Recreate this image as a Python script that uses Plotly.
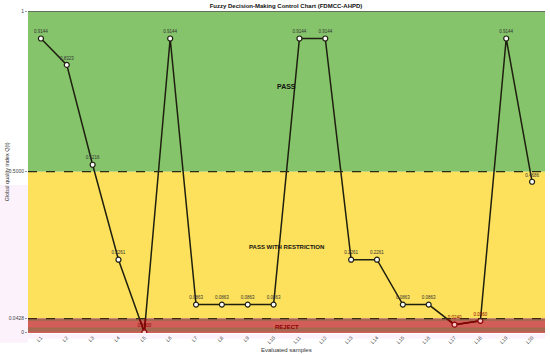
import plotly.graph_objects as go

samples = [f"L{i}" for i in range(1, 21)]
q_values = [0.9144, 0.8323, 0.5216, 0.2261, 0.0000, 0.9144, 0.0863, 0.0863, 0.0863, 0.0863,
            0.9144, 0.9144, 0.2261, 0.2261, 0.0863, 0.0863, 0.0240, 0.0360, 0.9144, 0.4686]
pass_threshold = 0.5000
reject_threshold = 0.0428
y_tick_vals = [0, reject_threshold, pass_threshold, 1]
y_tick_text = ["0", "0.0428", "0.5000", "1"]

FONT = "Liberation Sans, Arial, sans-serif"
GREEN = "#85C46A"
YELLOW = "#FDE05B"
RED = "#D35E57"
BROWN = "#9C6A50"
DARKRED = "#8B0000"

xs = list(range(len(samples)))
fig = go.Figure()

# main line
fig.add_trace(go.Scatter(x=xs, y=q_values, mode="lines", line=dict(color="#1f1f10", width=1.5),
                         hoverinfo="skip", showlegend=False))

# parts of segments inside reject zone, coloured dark red (derived from data)
for i in range(len(q_values) - 1):
    y0, y1 = q_values[i], q_values[i + 1]
    if y0 >= reject_threshold and y1 >= reject_threshold:
        continue
    def cross(ya, yb, xa, xb):
        t = (reject_threshold - ya) / (yb - ya)
        return xa + t * (xb - xa)
    if y0 < reject_threshold and y1 < reject_threshold:
        sx, sy = [xs[i], xs[i + 1]], [y0, y1]
    elif y0 < reject_threshold:
        sx, sy = [xs[i], cross(y0, y1, xs[i], xs[i + 1])], [y0, reject_threshold]
    else:
        sx, sy = [cross(y0, y1, xs[i], xs[i + 1]), xs[i + 1]], [reject_threshold, y1]
    fig.add_trace(go.Scatter(x=sx, y=sy, mode="lines", line=dict(color=DARKRED, width=1.5),
                             hoverinfo="skip", showlegend=False))

in_reject = [v < reject_threshold for v in q_values]
fig.add_trace(go.Scatter(
    x=xs, y=q_values, mode="markers+text",
    marker=dict(size=5, color=["#F7C6C6" if r else "white" for r in in_reject],
                line=dict(color=[DARKRED if r else "#1f1f10" for r in in_reject], width=1.2)),
    text=[f"{v:.4f}" for v in q_values], textposition="top center",
    textfont=dict(size=4.5, family=FONT, color=[DARKRED if r else "#333333" for r in in_reject]),
    hoverinfo="skip", showlegend=False))

shapes = [
    dict(type="rect", xref="paper", yref="y", x0=0, x1=1, y0=pass_threshold, y1=1,
         fillcolor=GREEN, line=dict(width=0), layer="below"),
    dict(type="rect", xref="paper", yref="y", x0=0, x1=1, y0=reject_threshold, y1=pass_threshold,
         fillcolor=YELLOW, line=dict(width=0), layer="below"),
    dict(type="rect", xref="paper", yref="y", x0=0, x1=1, y0=-0.01, y1=reject_threshold,
         fillcolor=RED, line=dict(width=0), layer="below"),
    dict(type="rect", xref="paper", yref="y", x0=0, x1=1, y0=0.035, y1=reject_threshold,
         fillcolor=BROWN, opacity=0.8, line=dict(width=0), layer="below"),
    dict(type="rect", xref="paper", yref="y", x0=0, x1=1, y0=0.003, y1=0.015,
         fillcolor=BROWN, opacity=0.8, line=dict(width=0), layer="below"),
    dict(type="rect", xref="paper", yref="paper", x0=-0.054, x1=0, y0=-0.03, y1=0.46,
         fillcolor="#FCF2FC", line=dict(width=0), layer="below"),
    dict(type="rect", xref="paper", yref="paper", x0=0, x1=1, y0=-0.018, y1=-0.003,
         fillcolor="#FCF2FC", line=dict(width=0), layer="below"),
    dict(type="line", xref="paper", yref="y", x0=0, x1=1, y0=pass_threshold, y1=pass_threshold,
         line=dict(color="#2b2b18", width=1.2, dash="dash")),
    dict(type="line", xref="paper", yref="y", x0=0, x1=1, y0=reject_threshold, y1=reject_threshold,
         line=dict(color="#3a2a18", width=1.2, dash="dash")),
    dict(type="line", xref="paper", yref="y", x0=0, x1=1, y0=1, y1=1,
         line=dict(color="#555555", width=1.5)),
]

annotations = [
    dict(text="<b>PASS</b>", x=0.5, xref="paper", y=0.765, yref="y", showarrow=False,
         font=dict(size=7, family=FONT, color="#111111")),
    dict(text="<b>PASS WITH RESTRICTION</b>", x=0.5, xref="paper", y=0.265, yref="y", showarrow=False,
         font=dict(size=6, family=FONT, color="#111111")),
    dict(text="<b>REJECT</b>", x=0.5, xref="paper", y=0.018, yref="y", showarrow=False,
         font=dict(size=6, family=FONT, color=DARKRED)),
    dict(text="Evaluated samples", x=0.5, xref="paper", y=-0.038, yref="paper", yanchor="top",
         showarrow=False, font=dict(size=6, family=FONT, color="#333333")),
    dict(text="Global quality index Q(t)", x=-0.04, xref="paper", xanchor="center", y=0.5, yref="paper",
         textangle=-90, showarrow=False, font=dict(size=5.5, family=FONT, color="#333333")),
]

fig.update_layout(
    width=550, height=355,
    margin=dict(l=28, r=5, t=11, b=22, autoexpand=False),
    paper_bgcolor="white", plot_bgcolor="white",
    title=dict(text="<b>Fuzzy Decision-Making Control Chart (FDMCC-AHPD)</b>", x=0.52, xanchor="center",
               y=0.983, yanchor="middle", font=dict(size=6, family=FONT, color="#111111")),
    shapes=shapes, annotations=annotations,
    xaxis=dict(range=[-0.5, len(samples) - 0.5], tickvals=xs, ticktext=samples, tickangle=-45,
               showgrid=False, zeroline=False, automargin=False,
               tickfont=dict(size=5, family=FONT, color="#444444")),
    yaxis=dict(range=[-0.002, 1.0], tickvals=y_tick_vals, ticktext=y_tick_text,
               showgrid=False, zeroline=False, ticks="outside", ticklen=2, tickcolor="#999999",
               automargin=False, tickfont=dict(size=5, family=FONT, color="#444444")),
    font=dict(family=FONT),
)

fig.write_html("out.html", config={"displayModeBar": False},
               post_script="document.body.style.margin='0';document.body.style.padding='0';")
